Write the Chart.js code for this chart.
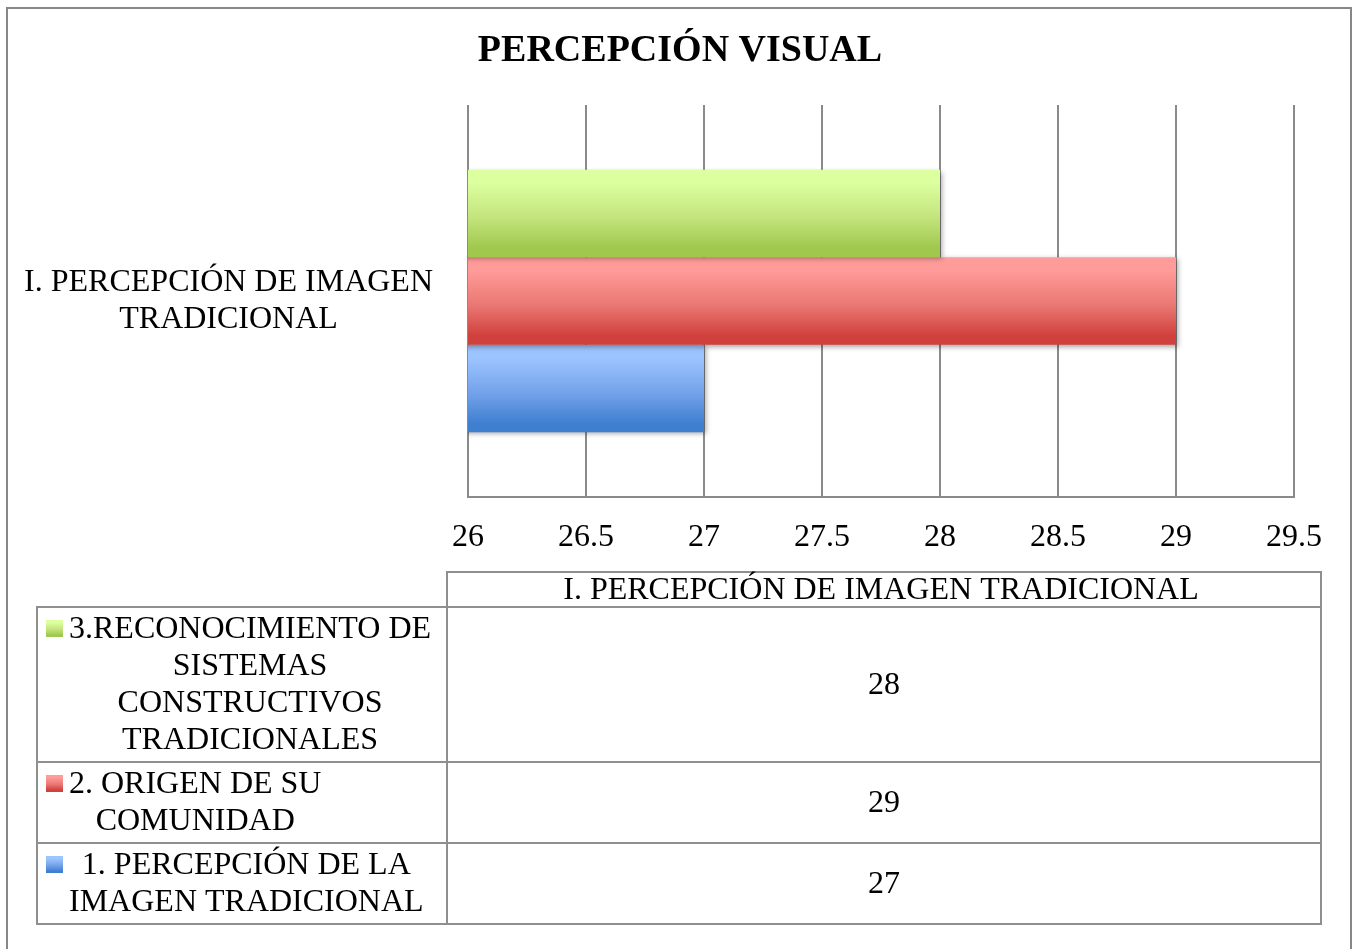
<!DOCTYPE html>
<html>
<head>
<meta charset="utf-8">
<script src="https://cdn.jsdelivr.net/npm/chart.js@4/dist/chart.umd.min.js"></script>
<style>
  html, body { margin: 0; padding: 0; background: #fff; }
  canvas { display: block; }
</style>
</head>
<body>
<canvas id="chart" width="1356" height="949"></canvas>
<script>
const TITLE = 'PERCEPCIÓN VISUAL';
const categories = [ [ 'I. PERCEPCIÓN DE IMAGEN', 'TRADICIONAL' ] ];

// series from top to bottom, as in the picture
const seriesNames = [
  [ '3.RECONOCIMIENTO DE', 'SISTEMAS', 'CONSTRUCTIVOS', 'TRADICIONALES' ],
  [ '2. ORIGEN DE SU', 'COMUNIDAD' ],
  [ '1. PERCEPCIÓN DE LA', 'IMAGEN TRADICIONAL' ],
];
const reconocimiento = [ 28 ];
const origen = [ 29 ];
const percepcion = [ 27 ];

const X_MIN = 26, X_MAX = 29.5, X_STEP = 0.5;

const COLORS = [
  [ '#dcff9f', '#c3e47c', '#9fc84d' ],
  [ '#ff9b99', '#ea7773', '#d0403c' ],
  [ '#9cc4ff', '#74a2ea', '#3f7fd0' ],
];

const FONT = "'Liberation Serif', 'Times New Roman', serif";
const CAT_PCT = 0.67;
const GRID = '#8a8a8a';

let shade = function(ctx, colors, top, h) {
  let g = ctx.createLinearGradient(0, top, 0, top + h);
  g.addColorStop(0, colors[0]);
  g.addColorStop(0.15, colors[0]);
  g.addColorStop(0.55, colors[1]);
  g.addColorStop(0.9, colors[2]);
  g.addColorStop(1, colors[2]);
  return g;
};

let barFill = function(i) {
  return function(c) {
    let chart = c.chart, area = chart.chartArea, y = chart.scales.y;
    if (c.type !== 'data' || !area || !y) return COLORS[i][1];
    let band = (area.bottom - area.top) / categories.length * CAT_PCT;
    let h = band / seriesNames.length;
    let top = y.getPixelForValue(c.dataIndex) - band / 2 + c.datasetIndex * h;
    return shade(chart.ctx, COLORS[i], top, h);
  };
};

let values = [ reconocimiento, origen, percepcion ];
let datasets = values.map(function(v, i) {
  return {
    label: seriesNames[i].join(' '),
    data: v,
    backgroundColor: barFill(i),
    borderWidth: 0,
    categoryPercentage: CAT_PCT,
    barPercentage: 1,
  };
});

let frame = {
  id: 'frame',
  beforeDraw(chart) {
    let ctx = chart.ctx;
    ctx.save();
    ctx.fillStyle = '#fff';
    ctx.fillRect(0, 0, chart.width, chart.height);
    ctx.strokeStyle = '#878787';
    ctx.lineWidth = 2;
    ctx.strokeRect(7, 8, 1344, 980);
    ctx.fillStyle = '#000';
    ctx.font = 'bold 38px ' + FONT;
    ctx.textAlign = 'center';
    ctx.textBaseline = 'middle';
    ctx.fillText(TITLE, 680, 51);
    ctx.restore();
  }
};

let shadow = {
  id: 'shadow',
  beforeDatasetsDraw(chart) {
    let ctx = chart.ctx;
    ctx.save();
    ctx.shadowColor = 'rgba(0, 0, 0, 0.35)';
    ctx.shadowBlur = 5;
    ctx.shadowOffsetX = 2;
    ctx.shadowOffsetY = 2;
  },
  afterDatasetsDraw(chart) {
    chart.ctx.restore();
  }
};

// data table under the axis, legend keys in the first column
let table = {
  id: 'table',
  afterDraw(chart) {
    let ctx = chart.ctx;
    const L = 37, M = 447, R = 1321, TOP = 572, HEAD = 607, LH = 37;
    ctx.save();
    ctx.strokeStyle = '#8f8f8f';
    ctx.lineWidth = 2;
    ctx.fillStyle = '#000';
    ctx.font = '32px ' + FONT;
    ctx.textAlign = 'center';
    ctx.textBaseline = 'middle';

    ctx.strokeRect(M, TOP, R - M, HEAD - TOP);
    ctx.fillText(categories[0].join(' '), (M + R) / 2 - 3, (TOP + HEAD) / 2 + 1);

    let y = HEAD;
    seriesNames.forEach(function(lines, i) {
      let h = lines.length * LH + 7;
      ctx.strokeRect(L, y, M - L, h);
      ctx.strokeRect(M, y, R - M, h);

      let mid = y + h / 2;
      let first = mid - (lines.length - 1) * LH / 2;
      ctx.fillStyle = shade(ctx, COLORS[i], first - 9, 17);
      ctx.fillRect(46, first - 9, 17, 17);

      ctx.fillStyle = '#000';
      let widest = Math.max.apply(null, lines.map(function(s) { return ctx.measureText(s).width; }));
      let cx = 69 + widest / 2;
      lines.forEach(function(s, k) {
        ctx.fillText(s, cx, first + k * LH + 1);
      });
      ctx.fillText(String(values[i][0]), (M + R) / 2, mid + 1);
      y += h;
    });
    ctx.restore();
  }
};

new Chart(document.getElementById('chart').getContext('2d'), {
  type: 'bar',
  data: { labels: categories, datasets: datasets },
  plugins: [ frame, shadow, table ],
  options: {
    indexAxis: 'y',
    responsive: false,
    animation: false,
    layout: { padding: { top: 105, right: 62, left: 0, bottom: 392 } },
    plugins: { legend: { display: false }, title: { display: false }, tooltip: { enabled: false } },
    scales: {
      x: {
        min: X_MIN,
        max: X_MAX,
        grid: { color: GRID, lineWidth: 2, drawTicks: false },
        border: { display: true, color: GRID, width: 2 },
        ticks: {
          stepSize: X_STEP, padding: 21, color: '#000', font: { family: FONT, size: 32 },
          callback: function(v) { return String(v); },
        },
        afterFit: function(scale) { scale.height = 60; },
      },
      y: {
        grid: { display: false },
        border: { display: false },
        ticks: { crossAlign: 'center', padding: 27, color: '#000', font: { family: FONT, size: 32, lineHeight: 1.17 } },
        afterFit: function(scale) { scale.width = 468; },
      }
    }
  }
});
</script>
</body>
</html>
